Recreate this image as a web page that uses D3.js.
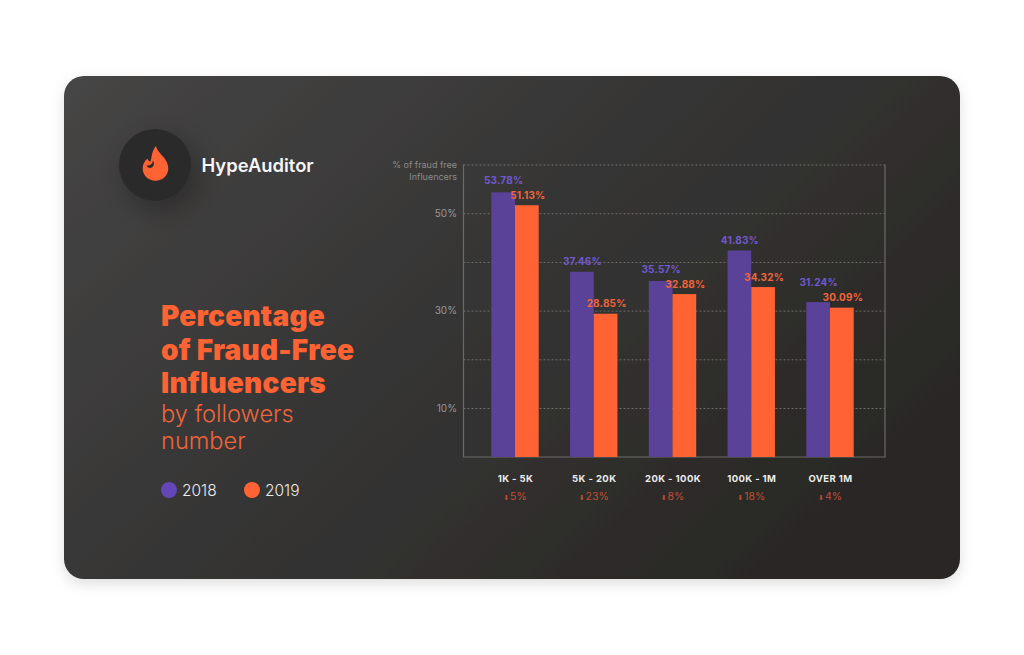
<!DOCTYPE html>
<html>
<head>
<meta charset="utf-8">
<script src="https://d3js.org/d3.v7.min.js"></script>
<style>
  html, body { margin: 0; background: #fff; }
  svg { display: block; }
  text { font-family: "Inter", "Open Sans", sans-serif; }
  .domain { display: none; }
</style>
</head>
<body>
<div id="chart"></div>
<script>
var categories = ["1K - 5K", "5K - 20K", "20K - 100K", "100K - 1M", "OVER 1M"];
var values2018 = [53.78, 37.46, 35.57, 41.83, 31.24];
var values2019 = [51.13, 28.85, 32.88, 34.32, 30.09];
var changes = ["5%", "23%", "8%", "18%", "4%"];
var gridTicks = [10, 20, 30, 40, 50, 60];
var labelledTicks = [10, 30, 50];
var years = ["2018", "2019"];
var titleBold = ["Percentage", "of Fraud-Free", "Influencers"];
var titleLight = ["by followers", "number"];

var purple = "#5a4299";
var orange = "#ff6333";
var plot = { left: 463.5, right: 885, top: 164.5, bottom: 457 };
var barW = 23.7;
var barLift = 2.5; // bars sit a bit above the gridlines in the original

var svg = d3.select("#chart").append("svg")
  .attr("width", 1024)
  .attr("height", 655);

var defs = svg.append("defs");

var grad = defs.append("linearGradient")
  .attr("id", "cardBg")
  .attr("x1", "0").attr("y1", "0")
  .attr("x2", "1").attr("y2", "0.6");
grad.append("stop").attr("offset", "0").attr("stop-color", "#464545");
grad.append("stop").attr("offset", "0.5").attr("stop-color", "#363535");
grad.append("stop").attr("offset", "1").attr("stop-color", "#2a2825");

var soft = defs.append("filter").attr("id", "cardShadow")
  .attr("x", "-10%").attr("y", "-10%").attr("width", "120%").attr("height", "125%");
soft.append("feDropShadow")
  .attr("dx", 0).attr("dy", 5).attr("stdDeviation", 7)
  .attr("flood-color", "#000").attr("flood-opacity", 0.13);

var logoShadow = defs.append("filter").attr("id", "logoShadow")
  .attr("x", "-60%").attr("y", "-60%").attr("width", "220%").attr("height", "220%");
logoShadow.append("feDropShadow")
  .attr("dx", 8).attr("dy", 10).attr("stdDeviation", 14)
  .attr("flood-color", "#000").attr("flood-opacity", 0.3);

svg.append("rect")
  .attr("x", 64).attr("y", 76)
  .attr("width", 896).attr("height", 503)
  .attr("rx", 20)
  .attr("fill", "url(#cardBg)")
  .attr("filter", "url(#cardShadow)");

// logo
svg.append("circle")
  .attr("cx", 155).attr("cy", 165).attr("r", 36)
  .attr("fill", "#2a2a2c")
  .attr("filter", "url(#logoShadow)");
svg.append("path")
  .attr("d", "M156,146 C157,153 168.3,158 168.3,168.5 C168.3,175.5 162.5,180.7 155.5,180.7 C148.5,180.7 142.7,175.5 142.7,168.5 C142.7,164.5 144.5,161 147.5,158.5 C148,160.5 149,161.5 150.5,161.5 C152,157 151.5,151 156,146 Z")
  .attr("fill", orange);
svg.append("path")
  .attr("d", "M146.5,165.5 C149.5,166 152.5,164.5 153,160.5 C155,163.5 153.5,168 150,168 C148.5,168 147,167 146.5,165.5 Z")
  .attr("fill", "#2a2a2c");
svg.append("text")
  .attr("x", 201.5).attr("y", 172)
  .attr("font-size", 18.4).attr("font-weight", 600)
  .attr("fill", "#f6f6f6")
  .text("HypeAuditor");

// title block
svg.selectAll(".title-bold")
  .data(titleBold).enter()
  .append("text")
  .attr("class", "title-bold")
  .attr("x", 161)
  .attr("y", (d, i) => 326 + i * 33.5)
  .attr("font-size", 28).attr("font-weight", 900)
  .attr("letter-spacing", 0.25)
  .attr("fill", orange)
  .text(d => d);
svg.selectAll(".title-light")
  .data(titleLight).enter()
  .append("text")
  .attr("class", "title-light")
  .attr("x", 161)
  .attr("y", (d, i) => 422 + i * 27)
  .attr("font-size", 23.6).attr("font-weight", 300)
  .attr("fill", "#f0653a")
  .text(d => d);

// legend
var legendX = d3.scalePoint().domain(years).range([169, 252]);
var legendColor = d3.scaleOrdinal().domain(years).range(["#6347b8", orange]);
var legend = svg.selectAll(".legend")
  .data(years).enter()
  .append("g")
  .attr("class", "legend")
  .attr("transform", d => "translate(" + legendX(d) + ",490)");
legend.append("circle")
  .attr("r", 8)
  .attr("fill", d => legendColor(d));
legend.append("text")
  .attr("x", 13).attr("y", 5.8)
  .attr("font-size", 15.5).attr("font-weight", 300)
  .attr("fill", "#ececec")
  .text(d => d);

// scales
var x = d3.scalePoint().domain(categories).range([515, 830]);
var y = d3.scaleLinear().domain([0, 60]).range([456.7, plot.top]);

// grid + y labels
var yAxis = d3.axisLeft(y)
  .tickValues(gridTicks)
  .tickSize(-(plot.right - plot.left))
  .tickPadding(6.5)
  .tickFormat(d => labelledTicks.indexOf(d) >= 0 ? d + "%" : "");
var yG = svg.append("g")
  .attr("transform", "translate(" + plot.left + ",0)")
  .call(yAxis);
yG.selectAll(".tick line")
  .attr("stroke", "#7d7b76")
  .attr("stroke-dasharray", "2,2")
  .attr("stroke-width", 0.8);
yG.selectAll(".tick text")
  .attr("fill", "#989896")
  .attr("font-size", 10)
  .style("font-family", "Inter");

// plot frame
var frame = d3.path();
frame.moveTo(plot.left, plot.top);
frame.lineTo(plot.left, plot.bottom);
frame.lineTo(plot.right, plot.bottom);
frame.lineTo(plot.right, plot.top);
svg.append("path")
  .attr("d", frame.toString())
  .attr("fill", "none")
  .attr("stroke", "#6b6a67")
  .attr("stroke-width", 1.2);

svg.selectAll(".y-title")
  .data(["% of fraud free", "Influencers"]).enter()
  .append("text")
  .attr("class", "y-title")
  .attr("x", 457)
  .attr("y", (d, i) => 168 + i * 11.5)
  .attr("text-anchor", "end")
  .attr("font-size", 9)
  .attr("fill", "#8c8c8a")
  .text(d => d);

// bars
function barTop(v) { return y(v) - barLift; }

svg.selectAll(".bar2018")
  .data(values2018).enter()
  .append("rect")
  .attr("class", "bar2018")
  .attr("x", (d, i) => x(categories[i]) - barW)
  .attr("y", d => barTop(d))
  .attr("width", barW)
  .attr("height", d => plot.bottom - barTop(d))
  .attr("fill", purple);

svg.selectAll(".bar2019")
  .data(values2019).enter()
  .append("rect")
  .attr("class", "bar2019")
  .attr("x", (d, i) => x(categories[i]))
  .attr("y", d => barTop(d))
  .attr("width", barW)
  .attr("height", d => plot.bottom - barTop(d))
  .attr("fill", orange);

// value labels, the 2018 one steps up when it would run into the 2019 one
svg.selectAll(".label2019")
  .data(values2019).enter()
  .append("text")
  .attr("class", "label2019")
  .attr("x", (d, i) => x(categories[i]) + barW / 2 + 1)
  .attr("y", d => barTop(d) - 6.5)
  .attr("text-anchor", "middle")
  .attr("font-size", 10).attr("font-weight", 700)
  .attr("letter-spacing", 0.2)
  .attr("fill", "#f0663a")
  .text(d => d.toFixed(2) + "%");

svg.selectAll(".label2018")
  .data(values2018).enter()
  .append("text")
  .attr("class", "label2018")
  .attr("x", (d, i) => x(categories[i]) - barW / 2 + 0.5)
  .attr("y", (d, i) => Math.min(barTop(d) - 6.5, barTop(values2019[i]) - 6.5 - 15))
  .attr("text-anchor", "middle")
  .attr("font-size", 10).attr("font-weight", 700)
  .attr("letter-spacing", 0.2)
  .attr("fill", "#7159cf")
  .text(d => d.toFixed(2) + "%");

// category labels
var xAxis = d3.axisBottom(x).tickSize(0).tickPadding(18);
var xG = svg.append("g")
  .attr("transform", "translate(0," + plot.bottom + ")")
  .call(xAxis);
xG.selectAll(".tick text")
  .attr("fill", "#ececec")
  .attr("font-size", 9.5)
  .attr("font-weight", 700)
  .attr("letter-spacing", 0.4)
  .style("font-family", "Inter");

// change row
var changeText = svg.selectAll(".change")
  .data(changes).enter()
  .append("text")
  .attr("class", "change")
  .attr("x", (d, i) => x(categories[i]))
  .attr("y", 500)
  .attr("text-anchor", "middle")
  .attr("font-size", 10.5)
  .attr("fill", "#c04e32");
changeText.append("tspan")
  .attr("font-size", 7)
  .style("font-family", "DejaVu Sans")
  .text("⬇");
changeText.append("tspan")
  .attr("dx", 1)
  .text(d => d);
</script>
</body>
</html>
